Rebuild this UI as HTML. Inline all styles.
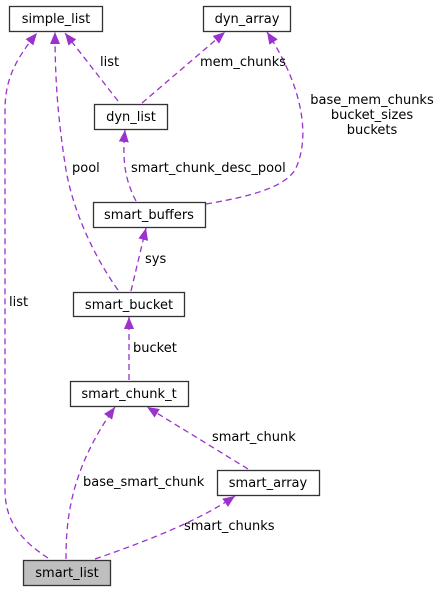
<!DOCTYPE html>
<html><head><style>body{margin:0;background:#fff}svg{display:block}text{font-family:"DejaVu Sans","Liberation Sans",sans-serif;font-size:13px;fill:#000}</style></head>
<body>
<svg width="443" height="591" viewBox="0 0 443 591">
<defs><marker id="a" viewBox="0 0 12 10" refX="12" refY="5" markerWidth="12" markerHeight="10" markerUnits="userSpaceOnUse" orient="auto"><path d="M0,0 L12,5 L0,10 z" fill="#9a32cd"/></marker></defs>
<g fill="none" stroke="#9a32cd" stroke-width="1.3" stroke-dasharray="6,4" marker-end="url(#a)">
<path d="M48,558 C20,540 5,520 5,490 L5,110 C5,80 15,60 37,33"/>
<path d="M118,290 C100,265 75,220 66,170 C58,120 55,80 55,32"/>
<path d="M118,101 L65,33"/>
<path d="M142,103 L225,32"/>
<path d="M136,201 C125,180 122,160 125,130"/>
<path d="M206,204 C260,195 285,185 295,170 C310,140 305,90 267,32"/>
<path d="M131,291 L146,228"/>
<path d="M129,380 L129,317"/>
<path d="M66,559 C66,520 70,470 115,407"/>
<path d="M248,469 L147,407"/>
<path d="M95,559 C150,540 200,520 235,496"/>
</g>
<g fill="#fff" stroke="#333" stroke-width="1.3">
<rect x="9.5" y="6.5" width="93" height="25"/>
<rect x="203.5" y="6.5" width="87" height="25"/>
<rect x="94.5" y="104.5" width="73" height="25"/>
<rect x="93.5" y="202.5" width="112" height="25"/>
<rect x="73.5" y="292.5" width="111" height="24"/>
<rect x="70.5" y="381.5" width="118" height="25"/>
<rect x="217.5" y="470.5" width="102" height="25"/>
<rect x="23.5" y="560.5" width="87" height="25" fill="#bfbfbf"/>
</g>
<g text-anchor="middle">
<text x="56" y="23">simple_list</text>
<text x="247" y="23">dyn_array</text>
<text x="131" y="121">dyn_list</text>
<text x="149" y="219">smart_buffers</text>
<text x="129" y="309">smart_bucket</text>
<text x="129" y="398">smart_chunk_t</text>
<text x="268" y="487">smart_array</text>
<text x="67" y="577">smart_list</text>
<text x="372" y="104">base_mem_chunks</text>
<text x="372" y="119">bucket_sizes</text>
<text x="372" y="134">buckets</text>
</g>
<text x="100" y="66">list</text>
<text x="200" y="66">mem_chunks</text>
<text x="72" y="172">pool</text>
<text x="131" y="172">smart_chunk_desc_pool</text>
<text x="145" y="263">sys</text>
<text x="9" y="306">list</text>
<text x="133" y="352">bucket</text>
<text x="212" y="441">smart_chunk</text>
<text x="83" y="486">base_smart_chunk</text>
<text x="184" y="530">smart_chunks</text>
</svg>
</body></html>
